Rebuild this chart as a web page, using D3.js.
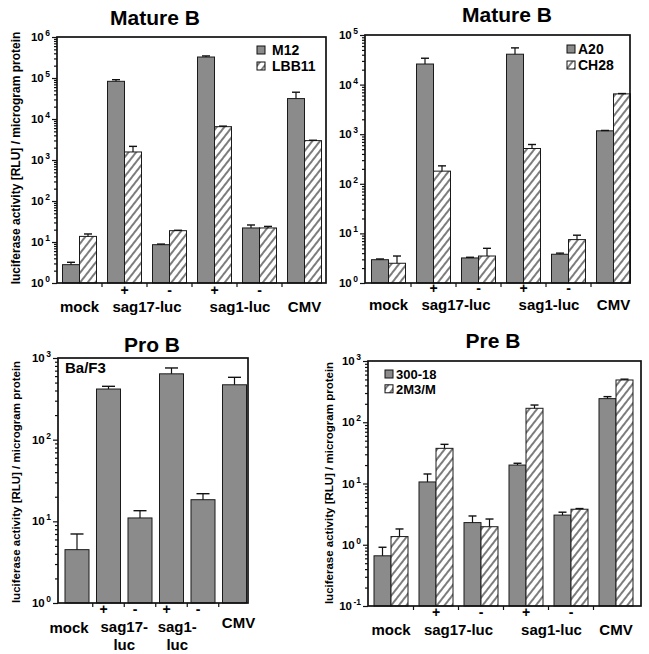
<!DOCTYPE html>
<html><head><meta charset="utf-8">
<script src="https://cdn.jsdelivr.net/npm/d3@7"></script>
<style>
body{margin:0;background:#fff}
text{font-family:"Liberation Sans",Arial,Helvetica,sans-serif;font-weight:bold;fill:#000}
</style>
</head><body>
<svg id="c" width="649" height="654"></svg>
<script>
// ---------------- DATA ----------------
const groups = ["mock", "sag17+", "sag17-", "sag1+", "sag1-", "CMV"];
const signs = ["", "+", "-", "+", "-", ""];

// Mature B (M12 / LBB11)
const m12      = [2.8, 83000, 8.6, 325000, 22, 31500];
const m12Err   = [3.2, 91000, 8.9, 345000, 26, 45000];
const lbb11    = [13.7, 1570, 18.9, 6500, 22, 2970];
const lbb11Err = [15.7, 2150, 19.3, 6700, 24, 3030];

// Mature B (A20 / CH28)
const a20      = [2.95, 26000, 3.2, 41000, 3.8, 1170];
const a20Err   = [3.05, 34000, 3.3, 55000, 4.0, 1190];
const ch28     = [2.5, 180, 3.5, 515, 7.5, 6500];
const ch28Err  = [3.5, 230, 5.0, 620, 9.2, 6600];

// Pro B (Ba/F3)
const baf3     = [4.5, 417, 11, 640, 18.4, 470];
const baf3Err  = [7.0, 450, 13.5, 755, 21.8, 580];

// Pre B (300-18 / 2M3/M)
const p30018    = [0.66, 10.6, 2.3, 20, 3.05, 243];
const p30018Err = [0.91, 14.3, 2.95, 21.4, 3.4, 262];
const p2m3      = [1.36, 37.5, 1.97, 169, 3.8, 490];
const p2m3Err   = [1.81, 43.6, 2.63, 191, 3.9, 505];

// tick exponents (labels 10^e)
const expMatureB1 = [0, 1, 2, 3, 4, 5, 6];
const expMatureB2 = [0, 1, 2, 3, 4, 5];
const expProB = [0, 1, 2, 3];
const expPreB = [-1, 0, 1, 2, 3];

const yLabel = "luciferase activity [RLU] / microgram protein";

// ---------------- DRAW ----------------
const GRAY = "#8b8b8b";
const svg = d3.select("#c");
const defs = svg.append("defs");
const pat = defs.append("pattern").attr("id", "hatch")
  .attr("patternUnits", "userSpaceOnUse").attr("width", 6).attr("height", 6)
  .attr("patternTransform", "rotate(38)");
pat.append("rect").attr("width", 6).attr("height", 6).attr("fill", "#fff");
pat.append("line").attr("x1", 3).attr("y1", 0).attr("x2", 3).attr("y2", 6)
  .attr("stroke", "#111").attr("stroke-width", 1.1);

function drawPanel(cfg) {
  const g = svg.append("g");
  const [L, T, R, B] = cfg.frame;
  const exps = cfg.exps;
  const y = d3.scaleLog().domain([Math.pow(10, exps[0]), Math.pow(10, exps[exps.length - 1])]).range([B, T]);
  const x = d3.scaleBand().domain(groups).range(cfg.xRange)
    .paddingInner(cfg.pad).paddingOuter(cfg.pad / 2);
  const sub = d3.scaleBand().domain(cfg.series.map(s => s.name)).range([0, x.bandwidth()]);

  cfg.series.forEach(s => {
    const rows = groups.map((k, i) => ({ k, v: s.values[i], e: s.errs[i] }));
    const gs = g.append("g");
    gs.selectAll("rect").data(rows).join("rect")
      .attr("x", d => x(d.k) + sub(s.name))
      .attr("width", sub.bandwidth())
      .attr("y", d => y(d.v))
      .attr("height", d => B - y(d.v))
      .attr("fill", s.hatch ? "url(#hatch)" : GRAY)
      .attr("stroke", "#1a1a1a").attr("stroke-width", 1);
    const cx = d => x(d.k) + sub(s.name) + sub.bandwidth() / 2;
    gs.selectAll("line.err").data(rows).join("line").attr("class", "err")
      .attr("x1", cx).attr("x2", cx)
      .attr("y1", d => y(d.v)).attr("y2", d => y(d.e))
      .attr("stroke", "#111").attr("stroke-width", 1.2);
    gs.selectAll("line.cap").data(rows).join("line").attr("class", "cap")
      .attr("x1", d => cx(d) - cfg.capW / 2).attr("x2", d => cx(d) + cfg.capW / 2)
      .attr("y1", d => y(d.e)).attr("y2", d => y(d.e))
      .attr("stroke", "#111").attr("stroke-width", 1.4);
  });

  g.append("rect").attr("x", L).attr("y", T).attr("width", R - L).attr("height", B - T)
    .attr("fill", "none").attr("stroke", "#111").attr("stroke-width", 1.7);

  const majors = exps.map(e => Math.pow(10, e));
  const minors = [];
  for (let i = 0; i < exps.length - 1; i++)
    for (let m = 2; m <= 9; m++) minors.push(m * Math.pow(10, exps[i]));
  g.append("g").attr("transform", `translate(${L},0)`)
    .call(d3.axisLeft(y).tickValues(majors).tickSize(5).tickFormat(""))
    .call(a => a.select(".domain").remove());
  g.append("g").attr("transform", `translate(${L},0)`)
    .call(d3.axisLeft(y).tickValues(minors).tickSize(3).tickFormat(""))
    .call(a => a.select(".domain").remove());
  g.selectAll(".tick line").attr("stroke", "#111").attr("stroke-width", 1.2);

  const tl = g.selectAll("text.yl").data(exps).join("text").attr("class", "yl")
    .attr("x", L - 7).attr("y", e => y(Math.pow(10, e)) + 4)
    .attr("text-anchor", "end");
  tl.append("tspan").attr("font-size", 11.5).text("10");
  tl.append("tspan").attr("font-size", 8.5).attr("dx", 1.5).attr("dy", -5).text(e => String(e));

  const bounds = groups.slice(1).map(k => x(k) - x.step() * x.paddingInner() / 2);
  g.selectAll("line.xt").data(bounds).join("line").attr("class", "xt")
    .attr("x1", d => d).attr("x2", d => d).attr("y1", B).attr("y2", B + 4)
    .attr("stroke", "#111").attr("stroke-width", 1.2);

  g.selectAll("text.sg").data(groups.map((k, i) => ({ k, s: signs[i] })).filter(d => d.s))
    .join("text").attr("class", "sg")
    .attr("x", d => x(d.k) + x.bandwidth() / 2 + cfg.signDx)
    .attr("y", cfg.signY).attr("text-anchor", "middle").attr("font-size", 14)
    .text(d => d.s);

  cfg.names.forEach(n => {
    const cxs = n.at.map(i => x(groups[i]) + x.bandwidth() / 2);
    const cxm = d3.mean(cxs) + (n.dx || 0);
    n.lines.forEach((ln, j) => {
      g.append("text").attr("x", cxm).attr("y", n.y + j * 18)
        .attr("text-anchor", "middle").attr("font-size", 15).text(ln);
    });
  });

  g.append("text").attr("x", cfg.title[1]).attr("y", cfg.title[2])
    .attr("text-anchor", "middle").attr("font-size", 21).text(cfg.title[0]);

  if (cfg.ylab) {
    g.append("text").attr("transform", `translate(${cfg.ylab[0]},${cfg.ylab[1]}) rotate(-90)`)
      .attr("text-anchor", "middle").attr("font-size", cfg.ylab[2]).text(yLabel);
  }

  if (cfg.legend) {
    const lg = cfg.legend;
    cfg.series.forEach((s, i) => {
      const yy = lg.y + i * lg.dy;
      g.append("rect").attr("x", lg.x).attr("y", yy - 4).attr("width", 8).attr("height", 8)
        .attr("fill", s.hatch ? "url(#hatch)" : GRAY).attr("stroke", "#111").attr("stroke-width", 1);
      g.append("text").attr("x", lg.tx).attr("y", yy + 5).attr("font-size", lg.fs).text(s.name);
    });
  }
  if (cfg.note) {
    g.append("text").attr("x", cfg.note[1]).attr("y", cfg.note[2]).attr("font-size", 15).text(cfg.note[0]);
  }
}

const stdNames = (y) => [
  { lines: ["mock"], at: [0], y },
  { lines: ["sag17-luc"], at: [1, 2], y },
  { lines: ["sag1-luc"], at: [3, 4], y, dx: 3 },
  { lines: ["CMV"], at: [5], y }
];

drawPanel({
  frame: [57, 37, 326, 283], exps: expMatureB1, xRange: [57, 327], pad: 11 / 45, capW: 8,
  series: [
    { name: "M12", values: m12, errs: m12Err, hatch: false },
    { name: "LBB11", values: lbb11, errs: lbb11Err, hatch: true }
  ],
  title: ["Mature B", 155, 25], ylab: [20, 158, 12],
  signY: 295, signDx: 0, names: stdNames(312),
  legend: { x: 257, y: 50, dy: 16, tx: 272, fs: 14 }
});

drawPanel({
  frame: [365, 35, 630, 283], exps: expMatureB2, xRange: [366, 636], pad: 11 / 45, capW: 8,
  series: [
    { name: "A20", values: a20, errs: a20Err, hatch: false },
    { name: "CH28", values: ch28, errs: ch28Err, hatch: true }
  ],
  title: ["Mature B", 507, 22], ylab: null,
  signY: 293, signDx: 0, names: stdNames(310),
  legend: { x: 567, y: 49, dy: 16, tx: 578, fs: 14 }
});

drawPanel({
  frame: [58, 358, 248, 603], exps: expProB, xRange: [61.25, 250.25], pad: 0.238, capW: 13,
  series: [
    { name: "Ba/F3", values: baf3, errs: baf3Err, hatch: false }
  ],
  title: ["Pro B", 152, 352], ylab: [20, 482, 11.5],
  signY: 614, signDx: -5,
  names: [
    { lines: ["mock"], at: [0], y: 633, dx: -8 },
    { lines: ["sag17-", "luc"], at: [1, 2], y: 632, dx: 0 },
    { lines: ["sag1-", "luc"], at: [3, 4], y: 632, dx: -10 },
    { lines: ["CMV"], at: [5], y: 628, dx: 4 }
  ],
  legend: null, note: ["Ba/F3", 65, 373]
});

drawPanel({
  frame: [368, 361, 641, 606], exps: expPreB, xRange: [368.5, 638.5], pad: 11 / 45, capW: 8,
  series: [
    { name: "300-18", values: p30018, errs: p30018Err, hatch: false },
    { name: "2M3/M", values: p2m3, errs: p2m3Err, hatch: true }
  ],
  title: ["Pre B", 493, 348], ylab: [333, 483, 11.5],
  signY: 617, signDx: 0, names: stdNames(635),
  legend: { x: 385, y: 374, dy: 14.8, tx: 396, fs: 13 }
});
</script>
</body></html>
